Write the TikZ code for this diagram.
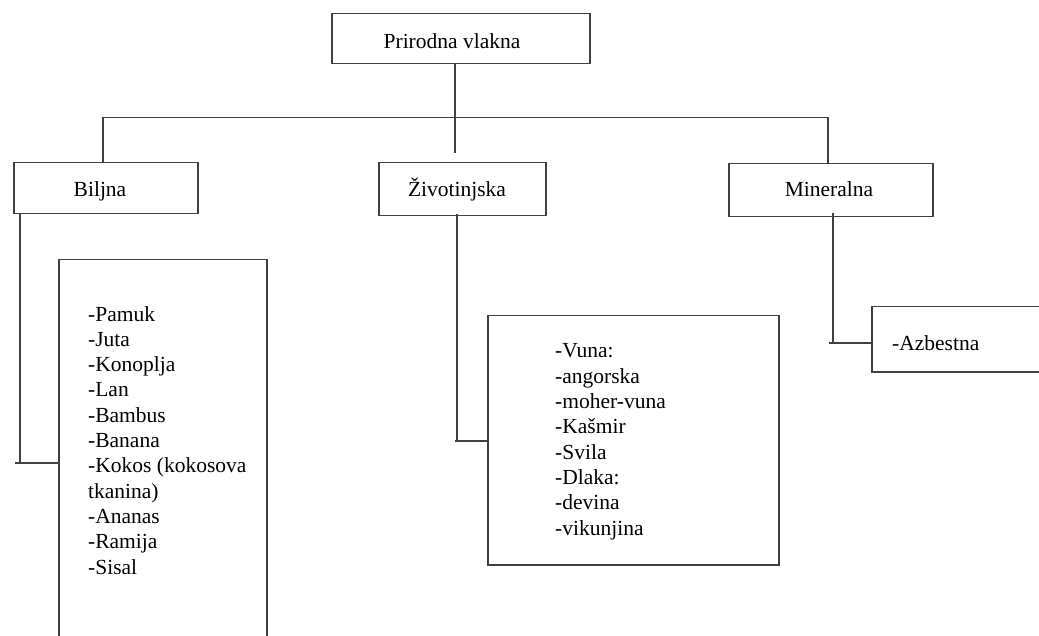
\documentclass[tikz,border=0pt]{standalone}
\usepackage{fontspec}
\setmainfont{Liberation Serif}
\begin{document}
\begin{tikzpicture}[x=1pt,y=-1pt,
  ln/.style={line width=1.5pt,draw=black!75},
  box/.style={ln,draw,rectangle,inner sep=0pt,anchor=north west},
  txt/.style={font=\fontsize{21.5}{25.3}\selectfont,inner sep=0pt,text=black},
  lst/.style={txt,align=left,anchor=base west}]
\useasboundingbox (0,0) rectangle (1039,636);
\clip (0,0) rectangle (1039,636);
% top box
\node[box,minimum width=258pt,minimum height=50pt] (root) at (331,13) {};
\node[txt,anchor=base] (roott) at (452,49) {Prirodna vlakna};
% level 2 boxes
\node[box,minimum width=184pt,minimum height=51pt] (bil) at (13,162) {};
\node[txt,anchor=base] (bilt) at (100,197) {Biljna};
\node[box,minimum width=167pt,minimum height=53pt] (ziv) at (378,162) {};
\node[txt,anchor=base] (zivt) at (457,197) {Životinjska};
\node[box,minimum width=204pt,minimum height=53pt] (min) at (728,163) {};
\node[txt,anchor=base] (mint) at (829,197) {Mineralna};
% list boxes
\node[box,minimum width=208pt,minimum height=420pt] (bl) at (58,259) {};
\node[lst] (blt) at (88,574) {-Pamuk\\-Juta\\-Konoplja\\-Lan\\-Bambus\\-Banana\\-Kokos (kokosova\\tkanina)\\-Ananas\\-Ramija\\-Sisal};
\node[box,minimum width=291pt,minimum height=249pt] (zl) at (487,315) {};
\node[lst] (zlt) at (555,535) {-Vuna:\\-angorska\\-moher-vuna\\-Kašmir\\-Svila\\-Dlaka:\\-devina\\-vikunjina};
\node[box,minimum width=200pt,minimum height=65pt] (ml) at (871,306) {};
\node[lst] (mlt) at (892,350) {-Azbestna};
% connectors
\coordinate (hl) at (103,117.5);
\coordinate (hr) at (828,117.5);
\coordinate (rootend) at (455,153);
\draw[ln] (root.south -| rootend) -- (rootend);
\draw[ln] (bil.north -| hl) -- (hl) -- (hr) -- (min.north -| hr);
\coordinate (bc) at (20,463);
\draw[ln] (bil.south -| bc) -- (bc);
\draw[ln] ([xshift=-5pt]bc) -- (bl.west |- bc);
\coordinate (zc) at (457,441);
\draw[ln] ([yshift=2pt]ziv.south -| zc) -- (zc);
\draw[ln] ([xshift=-2pt]zc) -- (zl.west |- zc);
\coordinate (mc) at (833,343);
\draw[ln] ([yshift=4pt]min.south -| mc) -- (mc);
\draw[ln] ([xshift=-4pt]mc) -- (ml.west |- mc);
\end{tikzpicture}
\end{document}
